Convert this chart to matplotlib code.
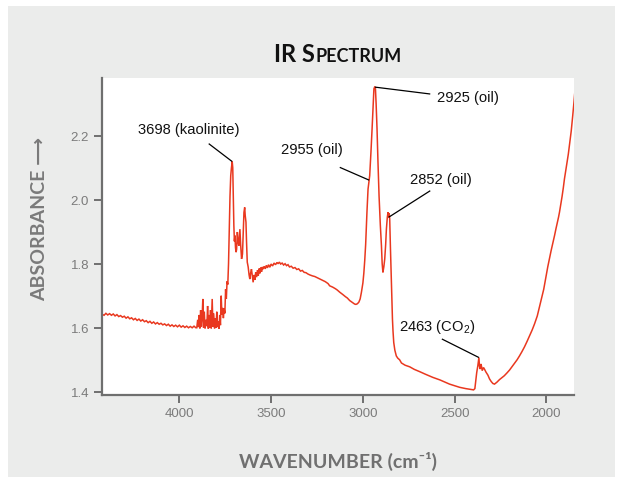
import numpy as np
import matplotlib
matplotlib.use("Agg")
import matplotlib.pyplot as plt
from matplotlib.patches import Rectangle

plt.rcParams['mathtext.fontset'] = 'custom'
plt.rcParams['mathtext.rm'] = 'Liberation Sans'
plt.rcParams['mathtext.it'] = 'Liberation Sans:italic'

# ---------------- data ----------------
wavenumber = [
    4424, 4410, 4400, 4390, 4380, 4370, 4360, 4350, 4340, 4330, 4320, 4310, 4300, 4290,
    4280, 4270, 4260, 4250, 4240, 4230, 4220, 4210, 4200, 4190, 4180, 4170, 4160, 4150,
    4140, 4130, 4120, 4110, 4100, 4090, 4080, 4070, 4060, 4050, 4040, 4030, 4020, 4010,
    4000, 3990, 3980, 3970, 3960, 3950, 3940, 3930, 3920, 3910,
    3905, 3900, 3896, 3892, 3888, 3884, 3880, 3876, 3872, 3868, 3864, 3860, 3855, 3850,
    3846, 3842, 3838, 3834, 3830, 3826, 3821, 3817, 3813, 3808, 3804, 3800, 3796, 3792,
    3788, 3784, 3780, 3776, 3772, 3768, 3764, 3760, 3756, 3752, 3748, 3744, 3740, 3736,
    3732, 3728, 3724, 3720, 3716, 3712, 3709, 3706, 3703, 3700, 3697, 3694, 3691, 3688,
    3684, 3680, 3676, 3673, 3670, 3666, 3661, 3656, 3652, 3648, 3644, 3641, 3637, 3634,
    3630, 3625, 3620, 3616, 3612, 3607, 3602, 3598, 3593, 3588, 3584, 3579, 3574, 3570,
    3565, 3561, 3556, 3552, 3548, 3544, 3538, 3532, 3526, 3520, 3514, 3507, 3500, 3492,
    3484, 3476, 3468, 3462, 3455, 3448, 3440, 3432, 3424, 3416, 3408, 3400, 3390, 3380,
    3370, 3360, 3350, 3340, 3330, 3320, 3310, 3300, 3289, 3275, 3262, 3248, 3235, 3220,
    3205, 3190, 3181, 3165, 3150, 3140, 3126, 3110, 3095, 3085, 3072, 3060, 3050, 3045,
    3038, 3030, 3022, 3015, 3008, 3000, 2995, 2990, 2985, 2978, 2972, 2963, 2956, 2950,
    2944, 2940, 2936, 2932, 2928, 2923, 2918, 2912, 2905, 2899, 2895, 2891, 2886, 2881,
    2876, 2872, 2867, 2863, 2860, 2857, 2854, 2850, 2845, 2842, 2839, 2836, 2832, 2826,
    2818, 2810, 2800, 2790, 2770, 2745, 2720, 2691, 2660, 2619, 2580, 2528, 2500, 2473,
    2440, 2410, 2397, 2390, 2386, 2380, 2374, 2370, 2368, 2365, 2361, 2357, 2354, 2350,
    2347, 2343, 2337, 2330, 2319, 2310, 2301, 2292, 2283, 2270, 2256, 2243, 2230, 2215,
    2201, 2188, 2175, 2160, 2147, 2134, 2120, 2106, 2092, 2078, 2065, 2050, 2038, 2026,
    2015, 2004, 1993, 1984, 1975, 1965, 1956, 1948, 1940, 1934, 1929, 1922, 1915, 1908,
    1902, 1895, 1888, 1881, 1875, 1870, 1865, 1861, 1857, 1853, 1850, 1847, 1844,
]
absorbance = [
    1.643, 1.639, 1.645, 1.640, 1.644, 1.639, 1.643, 1.637, 1.641, 1.635, 1.638, 1.633, 1.636, 1.630,
    1.634, 1.628, 1.631, 1.625, 1.629, 1.623, 1.627, 1.621, 1.625, 1.619, 1.622, 1.616, 1.620, 1.614,
    1.618, 1.612, 1.616, 1.611, 1.614, 1.609, 1.612, 1.607, 1.611, 1.605, 1.609, 1.604, 1.608, 1.603,
    1.608, 1.602, 1.606, 1.601, 1.605, 1.600, 1.604, 1.600, 1.605, 1.600,
    1.600, 1.625, 1.602, 1.640, 1.598, 1.655, 1.604, 1.630, 1.690, 1.600, 1.650, 1.598, 1.625, 1.605,
    1.668, 1.597, 1.640, 1.600, 1.655, 1.598, 1.690, 1.603, 1.645, 1.598, 1.630, 1.600, 1.650, 1.602,
    1.620, 1.597, 1.640, 1.608, 1.700, 1.640, 1.662, 1.630, 1.660, 1.645, 1.720, 1.690, 1.745, 1.735,
    1.800, 1.900, 2.010, 2.075, 2.100, 2.119, 2.100, 2.010, 1.920, 1.870, 1.888, 1.850, 1.836, 1.845,
    1.899, 1.870, 1.856, 1.880, 1.908, 1.860, 1.815, 1.830, 1.900, 1.960, 1.976, 1.950, 1.930, 1.870,
    1.805, 1.790, 1.765, 1.752, 1.770, 1.783, 1.760, 1.742, 1.765, 1.750, 1.773, 1.758, 1.780, 1.762,
    1.785, 1.770, 1.788, 1.775, 1.790, 1.783, 1.792, 1.784, 1.795, 1.787, 1.797, 1.789, 1.799, 1.793,
    1.802, 1.797, 1.804, 1.800, 1.805, 1.799, 1.802, 1.796, 1.800, 1.794, 1.797, 1.790, 1.792, 1.786,
    1.788, 1.782, 1.784, 1.777, 1.779, 1.773, 1.772, 1.768, 1.765, 1.762, 1.760, 1.756, 1.752, 1.748,
    1.744, 1.738, 1.731, 1.727, 1.722, 1.718, 1.711, 1.704, 1.697, 1.693, 1.685, 1.680, 1.676, 1.674,
    1.673, 1.675, 1.680, 1.690, 1.711, 1.740, 1.770, 1.810, 1.860, 1.960, 2.033, 2.075, 2.150, 2.221,
    2.300, 2.346, 2.352, 2.351, 2.300, 2.221, 2.120, 2.012, 1.920, 1.856, 1.800, 1.773, 1.790, 1.815,
    1.860, 1.908, 1.945, 1.961, 1.945, 1.958, 1.940, 1.850, 1.752, 1.690, 1.627, 1.590, 1.554, 1.530,
    1.512, 1.505, 1.500, 1.490, 1.483, 1.478, 1.470, 1.463, 1.455, 1.445, 1.437, 1.424, 1.419, 1.414,
    1.410, 1.407, 1.406, 1.410, 1.429, 1.460, 1.481, 1.500, 1.507, 1.480, 1.471, 1.487, 1.480, 1.466,
    1.470, 1.476, 1.470, 1.462, 1.452, 1.440, 1.432, 1.426, 1.424, 1.430, 1.438, 1.444, 1.450, 1.459,
    1.468, 1.478, 1.488, 1.500, 1.512, 1.525, 1.540, 1.557, 1.575, 1.593, 1.612, 1.637, 1.665, 1.692,
    1.720, 1.755, 1.790, 1.815, 1.840, 1.865, 1.888, 1.910, 1.930, 1.946, 1.961, 1.985, 2.010, 2.038,
    2.065, 2.090, 2.115, 2.142, 2.169, 2.192, 2.215, 2.240, 2.262, 2.285, 2.305, 2.325, 2.346,
]

x_ticks = [4000, 3500, 3000, 2500, 2000]
y_ticks = [1.4, 1.6, 1.8, 2.0, 2.2]

# annotations: label, label position (wn, A), alignment, leader start (wn, A), leader end wn on curve
annotations = [
    ("3698 (kaolinite)", (4224, 2.221), 'left', (3840, 2.175), 3712),
    ("2955 (oil)", (3276, 2.158), 'center', (3126, 2.101), 2966),
    ("2925 (oil)", (2595, 2.322), 'left', (2633, 2.330), 2934),
    ("2852 (oil)", (2741, 2.065), 'left', (2633, 2.028), 2860),
    ("2463 (CO$_2$)", (2805, 1.604), 'left', (2570, 1.565), 2368),
]

# ---------------- figure ----------------
W, H = 623, 485
fig = plt.figure(figsize=(W / 100, H / 100), dpi=100)
fig.patch.set_facecolor('white')
fig.patches.append(Rectangle((8 / W, 7 / H), (615 - 8) / W, (478 - 7) / H,
                             transform=fig.transFigure, facecolor='#ebeceb',
                             edgecolor='none', zorder=-10))

ax = fig.add_axes([101.5 / W, 1 - 396 / H, (574 - 101.5) / W, (396 - 79) / H])
ax.set_zorder(5)
ax.set_facecolor('white')

ax.plot(wavenumber, absorbance, color='#e9381f', lw=1.1, solid_joinstyle='miter')

ax.set_xlim(4424, 1850)
ax.set_ylim(1.39, 2.38)
ax.set_xticks(x_ticks)
ax.set_yticks(y_ticks)
ax.set_xticklabels([str(v) for v in x_ticks])
ax.set_yticklabels([f"{v:.1f}" for v in y_ticks])

gray = '#6f6f6f'
for s in ['top', 'right']:
    ax.spines[s].set_visible(False)
for s in ['left', 'bottom']:
    ax.spines[s].set_color(gray)
    ax.spines[s].set_linewidth(1.6)
ax.tick_params(axis='both', direction='out', length=6, width=1.4, color=gray,
               labelcolor='#7b7b7b', labelsize=9.5, pad=3)
for lab in ax.get_xticklabels() + ax.get_yticklabels():
    lab.set_family('Liberation Sans')

# annotations
wn_arr = np.array(wavenumber)[::-1]
ab_arr = np.array(absorbance)[::-1]
for text, (tx, ty), ha, (lx, ly), pk in annotations:
    py = float(np.interp(pk, wn_arr, ab_arr))
    ax.plot([lx, pk], [ly, py], color='black', lw=0.9, clip_on=False,
            solid_capstyle='butt')
    ax.text(tx, ty, text, ha=ha, va='center', fontsize=10.6, color='#111111',
            family='Liberation Sans')

# axis labels
lab_fam = ['Lato', 'DejaVu Sans']
fig.text(338 / W, 1 - 461 / H, "WAVENUMBER (cm\u207b\u00b9)", ha='center', va='center',
         fontsize=14, fontweight='bold', color='#707070', family=lab_fam)
fig.text(40 / W, 1 - 219 / H, "ABSORBANCE \u27f6", ha='center', va='center',
         rotation=90, fontsize=14, fontweight='bold', color='#7a7a7a', family=lab_fam)

# title in small caps
fig.canvas.draw()
r = fig.canvas.get_renderer()
base_y = 1 - 62 / H
t1 = fig.text(0, base_y, "IR S", fontsize=17, fontweight='bold', color='#111111',
              family=lab_fam, va='baseline')
t2 = fig.text(0, base_y, "PECTRUM", fontsize=13, fontweight='bold', color='#111111',
              family=lab_fam, va='baseline')
w1 = t1.get_window_extent(r).width
w2 = t2.get_window_extent(r).width
x0 = 338 - (w1 + w2) / 2
t1.set_x(x0 / W)
t2.set_x((x0 + w1) / W)

fig.savefig('out.png', dpi=100, facecolor='white')
